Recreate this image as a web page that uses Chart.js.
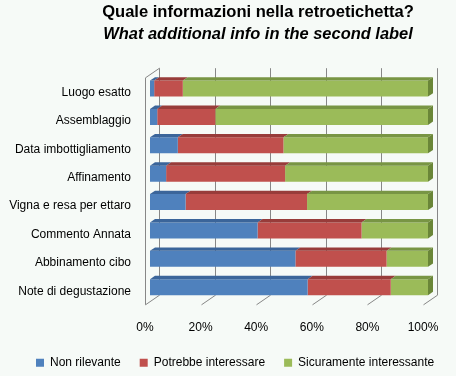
<!DOCTYPE html>
<html>
<head>
<meta charset="utf-8">
<script src="https://cdn.jsdelivr.net/npm/chart.js@4/dist/chart.umd.min.js"></script>
<style>
html,body{margin:0;padding:0;background:#F6FAF7;}
canvas{display:block;}
</style>
</head>
<body>
<canvas id="c" width="456" height="376"></canvas>
<script>
const categories = ["Luogo esatto","Assemblaggio","Data imbottigliamento","Affinamento","Vigna e resa per ettaro","Commento Annata","Abbinamento cibo","Note di degustazione"];
const nonRilevante = [1.5, 2.6, 10.0, 5.8, 12.8, 38.7, 52.3, 56.7];
const potrebbeInteressare = [10.3, 20.9, 38.0, 42.8, 43.7, 37.4, 32.8, 29.9];
const sicuramenteInteressante = [88.2, 76.5, 52.0, 51.4, 43.5, 23.9, 14.9, 13.4];
const seriesNames = ["Non rilevante","Potrebbe interessare","Sicuramente interessante"];
const xTicks = [0, 20, 40, 60, 80, 100];
const titleLine1 = "Quale informazioni nella retroetichetta?";
const titleLine2 = "What additional info in the second label";

const FONT = "'Liberation Sans', Arial, sans-serif";
const front = ['#4F81BD','#C0504D','#9BBB59'];
const topC = ['#3B659A','#983C3A','#789544'];
const sideC = ['#3A6294','#903937','#6A8638'];
const DEPTH = {dx:14, dy:-9.6};
const BAR = {dx:5, dy:-3.4};
const TARGET = {left:150, right:428, top:74.4, bottom:301.4};
const fit = {right: 28};

const threeD = {
  id:'threeD',
  beforeDraw(chart){
    const ctx = chart.ctx;
    ctx.save();
    ctx.fillStyle = '#F6FAF7';
    ctx.fillRect(0,0,chart.width,chart.height);
    ctx.restore();
  },
  beforeDatasetsDraw(chart){
    const ctx = chart.ctx, xs = chart.scales.x, ca = chart.chartArea;
    const yTopF = ca.top - BAR.dy, yBotF = ca.bottom - BAR.dy;
    ctx.save();
    ctx.strokeStyle = '#878787';
    ctx.lineWidth = 1;
    const r = v => Math.round(v) + 0.5;
    xTicks.forEach(v => {
      const xf = xs.getPixelForValue(v) - BAR.dx;
      const xb = xf + DEPTH.dx;
      ctx.beginPath();
      ctx.moveTo(r(xb), yTopF + DEPTH.dy);
      ctx.lineTo(r(xb), yBotF + DEPTH.dy);
      ctx.lineTo(r(xf), yBotF);
      ctx.stroke();
    });
    const x0f = xs.getPixelForValue(0) - BAR.dx;
    ctx.beginPath();
    ctx.moveTo(r(x0f + DEPTH.dx), yTopF + DEPTH.dy);
    ctx.lineTo(r(x0f), yTopF);
    ctx.lineTo(r(x0f), yBotF);
    ctx.stroke();
    ctx.restore();
  },
  afterDatasetsDraw(chart){
    const ctx = chart.ctx;
    const n = chart.data.datasets.length;
    ctx.save();
    for (let d = 0; d < n; d++) {
      const meta = chart.getDatasetMeta(d);
      meta.data.forEach(el => {
        const p = el.getProps(['x','y','base','height'], true);
        const x1 = Math.min(p.x, p.base), x2 = Math.max(p.x, p.base);
        const top = p.y - p.height/2, bot = p.y + p.height/2;
        ctx.fillStyle = topC[d];
        ctx.beginPath();
        ctx.moveTo(x1, top);
        ctx.lineTo(x1 + BAR.dx, top + BAR.dy);
        ctx.lineTo(x2 + BAR.dx, top + BAR.dy);
        ctx.lineTo(x2, top);
        ctx.closePath();
        ctx.fill();
        if (d === n - 1) {
          ctx.fillStyle = sideC[d];
          ctx.beginPath();
          ctx.moveTo(x2, top);
          ctx.lineTo(x2 + BAR.dx, top + BAR.dy);
          ctx.lineTo(x2 + BAR.dx, bot + BAR.dy);
          ctx.lineTo(x2, bot);
          ctx.closePath();
          ctx.fill();
        }
      });
    }
    ctx.restore();
  },
  afterDraw(chart){
    const ctx = chart.ctx;
    ctx.save();
    ctx.fillStyle = '#000';
    ctx.textAlign = 'center';
    ctx.textBaseline = 'alphabetic';
    ctx.font = "bold 16px " + FONT;
    let w = ctx.measureText(titleLine1).width;
    ctx.font = "bold " + (16*312/w).toFixed(2) + "px " + FONT;
    ctx.fillText(titleLine1, 258, 17);
    ctx.font = "italic bold 16px " + FONT;
    w = ctx.measureText(titleLine2).width;
    ctx.font = "italic bold " + (16*310/w).toFixed(2) + "px " + FONT;
    ctx.fillText(titleLine2, 258, 39);
    ctx.restore();
  },
  afterLayout(chart){
    const lg = chart.legend;
    if (!lg || !lg.lineWidths) return;
    const pad = lg.options.labels.padding;
    const startX = (lg.left + pad + lg.right - lg.lineWidths[0]) / 2;
    const sx = 36 - startX;
    lg.left += sx; lg.right += sx;
    const itemH = 12;
    const sy = (362.7 - itemH/2 - pad) - lg.top;
    lg.top += sy; lg.bottom += sy;
  }
};

const chart = new Chart(document.getElementById('c'), {
  type: 'bar',
  data: {
    labels: categories,
    datasets: [
      {label: seriesNames[0], data: nonRilevante, backgroundColor: front[0]},
      {label: seriesNames[1], data: potrebbeInteressare, backgroundColor: front[1]},
      {label: seriesNames[2], data: sicuramenteInteressante, backgroundColor: front[2]}
    ]
  },
  options: {
    indexAxis: 'y',
    responsive: false,
    animation: false,
    devicePixelRatio: 1,
    categoryPercentage: 1,
    barPercentage: 0.563,
    layout: {padding: {left: 0, right: 0, top: 74.4, bottom: 0}},
    scales: {
      x: {
        stacked: true, min: 0, max: 100,
        grid: {display: false, drawTicks: true, tickLength: 18.7}, border: {display: false},
        ticks: {stepSize: 20, padding: 0, labelOffset: -5, color: '#000',
          font: {family: FONT, size: 12}, callback: v => v + '%'},
        afterFit: s => { s.height = 40; }
      },
      y: {
        stacked: true,
        grid: {display: false, drawTicks: false}, border: {display: false},
        ticks: {padding: 19, labelOffset: 4, color: '#000', font: {family: FONT, size: 12}},
        afterFit: s => { s.width = 150; }
      },
      yRight: {
        axis: 'y', type: 'linear', position: 'right', display: true,
        grid: {display: false, drawTicks: false}, border: {display: false},
        ticks: {display: false, padding: 0},
        afterFit: s => { s.width = fit.right; }
      }
    },
    plugins: {
      legend: {
        position: 'bottom',
        labels: {boxWidth: 8, boxHeight: 8, padding: 19, color: '#000', font: {family: FONT, size: 12}}
      },
      title: {display: false},
      tooltip: {enabled: false}
    }
  },
  plugins: [threeD]
});

// Fine-tune layout so the plot area lands where the reference has it
for (let i = 0; i < 4; i++) {
  const ca = chart.chartArea;
  const pad = chart.options.layout.padding;
  pad.top += TARGET.top - ca.top;
  pad.bottom += ca.bottom - TARGET.bottom;
  pad.left += TARGET.left - ca.left;
  fit.right = Math.max(0, fit.right + ca.right - TARGET.right);
  chart.update();
}
</script>
</body>
</html>
